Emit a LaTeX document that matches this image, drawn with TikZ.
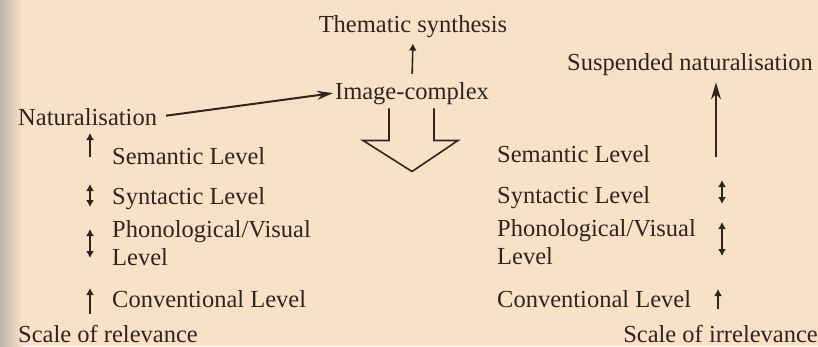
\documentclass[tikz,border=0pt]{standalone}
\usepackage{fontspec}
\setmainfont{Liberation Serif}
\usetikzlibrary{arrows.meta,positioning,calc}
\definecolor{paper}{RGB}{248,225,199}
\definecolor{ink}{RGB}{48,36,30}
\definecolor{spine}{RGB}{190,180,168}

\begin{document}
\begin{tikzpicture}[
  x=1pt, y=-1pt,
  lbl/.style={inner sep=2pt, anchor=base west, text=ink, align=left,
              font=\fontsize{24.5}{28}\selectfont},
  arr/.style={-{Stealth[length=16pt,width=9pt]}, line width=2pt, draw=ink},
  tick/.style={-{Latex[length=7pt,width=8pt]}, line width=1.6pt, draw=ink},
  ticks/.style={{Latex[length=7pt,width=8pt]}-{Latex[length=7pt,width=8pt]},
                line width=1.6pt, draw=ink},
  hollow/.style={draw=ink, line width=1.6pt, line join=miter}
]
% page
\fill[paper] (0,0) rectangle (818,346);
\shade[left color=spine, right color=paper] (0,0) rectangle (22,346);
\useasboundingbox (0,0) rectangle (818,346);

% top
\node[lbl, anchor=base] (them) at (413,32) {Thematic synthesis};
\node[lbl, anchor=base] (img) at (412,99) {Image-complex};
\node[lbl] (nat) at (16,125) {Naturalisation};
\node[lbl, anchor=base east] (susp) at (815,70) {Suspended naturalisation};

% left column
\node[lbl] (lsem) at (110,164) {Semantic Level};
\node[lbl] (lsyn) at (110,204) {Syntactic Level};
\node[lbl] (lpho) at (110,265) {Phonological/Visual\\Level};
\node[lbl] (lcon) at (110,307) {Conventional Level};
\node[lbl] (lscale) at (16,342) {Scale of relevance};

% right column
\node[lbl] (rsem) at (495,162) {Semantic Level};
\node[lbl] (rsyn) at (495,203) {Syntactic Level};
\node[lbl] (rpho) at (495,264) {Phonological/Visual\\Level};
\node[lbl] (rcon) at (495,307) {Conventional Level};
\node[lbl, anchor=base east] (rscale) at (820,342) {Scale of irrelevance};

\draw[arr, shorten <=7pt] (nat.east) -- (img.west);
\draw[tick, shorten <=6pt, shorten >=4pt] (img.north) -- (them.south);

% hollow arrow
\draw[hollow] ($(img.south)+(-23,2)$) -- ++(0,32) -- ++(-26,0)
  -- ($(img.south)+(0,65)$) -- ($(img.south)+(46,34)$) -- ++(-24,0) -- ++(0,-32);

% suspended
\coordinate (suspfoot) at (716,157);
\draw[arr, -{Stealth[length=17pt,width=10pt]}, shorten >=5pt] (suspfoot) -- (suspfoot |- susp.south);

% level marks, left
\draw[tick] ($(lsem.base west)+(-20,-7)$) -- ++(0,-24);
\draw[ticks] ($(lsyn.base west)+(-20,-20)$) -- ++(0,23);
\draw[ticks] ($(lpho.base west)+(-20,-36)$) -- ++(0,29);
\draw[tick] ($(lcon.base west)+(-20,7)$) -- ++(0,-26);

% level marks, right
\draw[ticks] ($(rsyn.base west)+(227,-23)$) -- ++(0,24);
\draw[ticks] ($(rpho.base west)+(227,-42)$) -- ++(0,34);
\draw[tick] ($(rcon.base west)+(223,2)$) -- ++(0,-20);
\end{tikzpicture}
\end{document}
